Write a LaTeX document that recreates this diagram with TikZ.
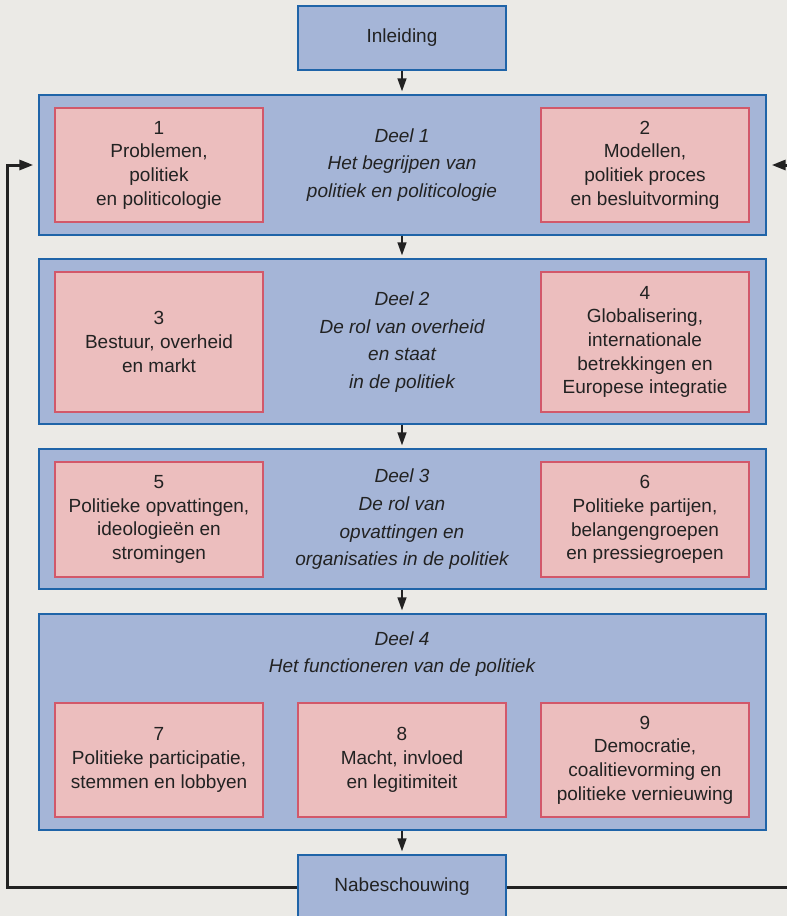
\documentclass[tikz,border=0pt]{standalone}
\usepackage{fontspec}
\setmainfont{Liberation Sans}
\usetikzlibrary{arrows.meta,calc}
\definecolor{bgc}{HTML}{EBEAE6}
\definecolor{bluefill}{HTML}{A5B5D7}
\definecolor{blueline}{HTML}{1F64A8}
\definecolor{pinkfill}{HTML}{ECBEBE}
\definecolor{pinkline}{HTML}{D2586A}
\definecolor{txt}{HTML}{222222}
\begin{document}
\begin{tikzpicture}[x=1pt,y=-1pt,
  outerbox/.style={draw=blueline,fill=bluefill,line width=1.4pt,inner sep=0pt,minimum width=727pt},
  endbox/.style={draw=blueline,fill=bluefill,line width=1.4pt,inner sep=0pt,minimum width=208pt,minimum height=64pt,
     font=\fontsize{19}{23.7}\selectfont,text=txt},
  chapbox/.style={draw=pinkline,fill=pinkfill,line width=1.3pt,inner sep=0pt,minimum width=208pt,align=center,
     font=\fontsize{19}{23.7}\selectfont,text=txt},
  parttitle/.style={align=center,inner sep=0pt,font=\fontsize{19}{27.7}\selectfont\itshape,text=txt},
  flow/.style={draw=txt,line width=1.5pt,-{Triangle[length=13pt,width=9pt]},shorten >=3pt},
  fb/.style={draw=txt,line width=3pt,-{Triangle[length=14pt,width=10pt]},shorten >=5pt}]
\useasboundingbox (0,0) rectangle (787,916);
\fill[bgc] (0,0) rectangle (787,916);

% Inleiding
\node[endbox] (inl) at (402,38) {Inleiding};

% Deel 1
\node[outerbox,minimum height=140pt] (d1) at (402.5,165) {};
\node[chapbox,minimum height=114pt] (p1) at (159,165) {1\\Problemen,\\politiek\\en politicologie};
\node[chapbox,minimum height=114pt] (p2) at (645,165) {2\\Modellen,\\politiek proces\\en besluitvorming};
\node[parttitle] (t1) at (402,165) {Deel 1\\Het begrijpen van\\politiek en politicologie};

% Deel 2
\node[outerbox,minimum height=165pt] (d2) at (402.5,341.5) {};
\node[chapbox,minimum height=140pt] (p3) at (159,342) {3\\Bestuur, overheid\\en markt};
\node[chapbox,minimum height=140pt] (p4) at (645,342) {4\\Globalisering,\\internationale\\betrekkingen en\\Europese integratie};
\node[parttitle] (t2) at (402,342) {Deel 2\\De rol van overheid\\en staat\\in de politiek};

% Deel 3
\node[outerbox,minimum height=140pt] (d3) at (402.5,519) {};
\node[chapbox,minimum height=115pt] (p5) at (159,519.5) {5\\Politieke opvattingen,\\ideologieën en\\stromingen};
\node[chapbox,minimum height=115pt] (p6) at (645,519.5) {6\\Politieke partijen,\\belangengroepen\\en pressiegroepen};
\node[parttitle] (t3) at (402,519.5) {Deel 3\\De rol van\\opvattingen en\\organisaties in de politiek};

% Deel 4
\node[outerbox,minimum height=216pt] (d4) at (402.5,722) {};
\node[parttitle] (t4) at (402,654) {Deel 4\\Het functioneren van de politiek};
\node[chapbox,minimum height=114pt] (p7) at (159,760) {7\\Politieke participatie,\\stemmen en lobbyen};
\node[chapbox,minimum height=114pt] (p8) at (402,760) {8\\Macht, invloed\\en legitimiteit};
\node[chapbox,minimum height=114pt] (p9) at (645,760) {9\\Democratie,\\coalitievorming en\\politieke vernieuwing};

% Nabeschouwing
\node[endbox] (nab) at (402,887) {Nabeschouwing};

% flow arrows
\draw[flow] (inl.south) -- (inl.south |- d1.north);
\draw[flow] (inl.south |- d1.south) -- (inl.south |- d2.north);
\draw[flow] (inl.south |- d2.south) -- (inl.south |- d3.north);
\draw[flow] (inl.south |- d3.south) -- (inl.south |- d4.north);
\draw[flow] (inl.south |- d4.south) -- (nab.north);

% feedback loops
\coordinate (lc) at (7,887);
\coordinate (rc) at (793,887);
\draw[fb] (nab.west) -- (lc) |- (d1.west);
\draw[fb] (nab.east) -- (rc) |- (d1.east);
\end{tikzpicture}
\end{document}
